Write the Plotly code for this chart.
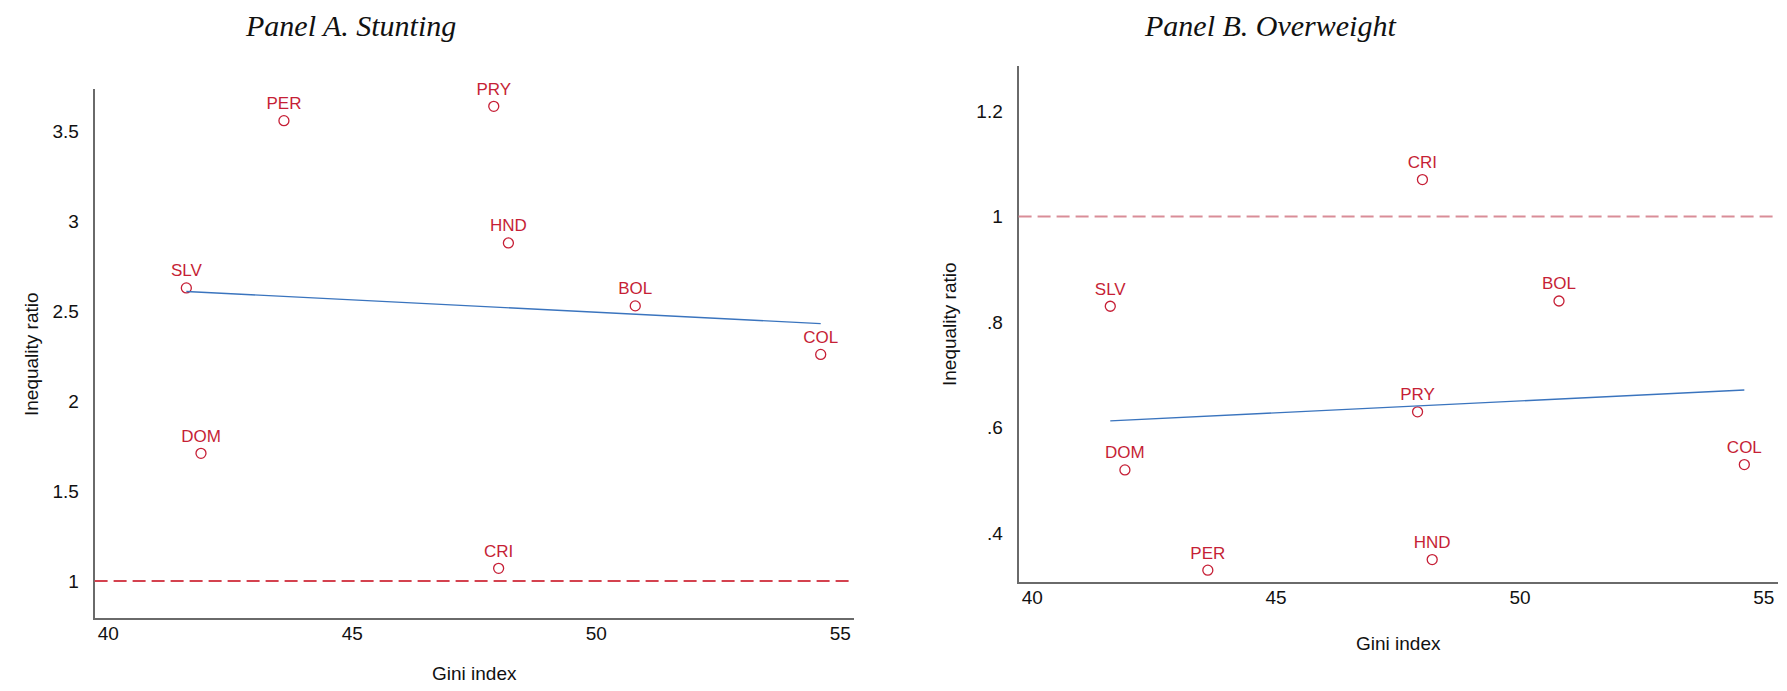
import numpy as np
import plotly.graph_objects as go

# ---- data ----
countries = ["SLV", "PER", "PRY", "HND", "BOL", "COL", "DOM", "CRI"]
gini = [41.6, 43.6, 47.9, 48.2, 50.8, 54.6, 41.9, 48.0]
stunting_ratio = [2.63, 3.56, 3.64, 2.88, 2.53, 2.26, 1.71, 1.07]
overweight_ratio = [0.83, 0.33, 0.63, 0.35, 0.84, 0.53, 0.52, 1.07]

x_ticks = [40, 45, 50, 55]
yA_ticks = [1, 1.5, 2, 2.5, 3, 3.5]
yA_labels = ["1", "1.5", "2", "2.5", "3", "3.5"]
yB_ticks = [0.4, 0.6, 0.8, 1.0, 1.2]
yB_labels = [".4", ".6", ".8", "1", "1.2"]

panel_titles = ["Panel A. Stunting", "Panel B. Overweight"]
x_title = "Gini index"
y_title = "Inequality ratio"

# ---- styles ----
RED = "#C61F36"
BLUE = "#3A74BE"
AXIS = "#6a6a6a"
SANS = "Liberation Sans Narrow, Arial Narrow, Liberation Sans, Arial, sans-serif"
SERIF = "Liberation Serif, Times New Roman, serif"

fig = go.Figure()


def add_panel(ys, xa, ya):
    fig.add_trace(go.Scatter(
        x=gini, y=ys, mode="markers+text", text=countries,
        textposition="top center", cliponaxis=False,
        textfont=dict(family=SANS, size=17, color=RED),
        marker=dict(symbol="circle-open", size=10, color=RED, line=dict(width=1.3, color=RED)),
        xaxis=xa, yaxis=ya, showlegend=False, hoverinfo="skip"))
    b, a = np.polyfit(gini, ys, 1)
    xs = [min(gini), max(gini)]
    fig.add_trace(go.Scatter(
        x=xs, y=[a + b * v for v in xs], mode="lines",
        line=dict(color=BLUE, width=1.4),
        xaxis=xa, yaxis=ya, showlegend=False, hoverinfo="skip"))


add_panel(stunting_ratio, "x", "y")
add_panel(overweight_ratio, "x2", "y2")

xcommon = dict(range=[39.72, 55.29], tickvals=x_ticks, showline=True, linecolor=AXIS,
               linewidth=2, showgrid=False, zeroline=False, ticks="",
               ticklabelstandoff=-3, tickfont=dict(family=SANS, size=19, color="#111"))
ycommon = dict(showline=True, linecolor=AXIS, linewidth=2, showgrid=False, zeroline=False,
               ticks="", ticklabelstandoff=10, tickfont=dict(family=SANS, size=19, color="#111"))

fig.update_layout(
    width=1787, height=691,
    margin=dict(l=0, r=0, t=0, b=0),
    paper_bgcolor="white", plot_bgcolor="white",
    xaxis=dict(domain=[0.05294, 0.4781], anchor="y", **xcommon),
    yaxis=dict(domain=[0.1054, 0.8706], anchor="x", range=[0.793, 3.734],
               tickvals=yA_ticks, ticktext=yA_labels, **ycommon),
    xaxis2=dict(domain=[0.5700, 0.99496], anchor="y2", **xcommon),
    yaxis2=dict(domain=[0.1573, 0.9051], anchor="x2", range=[0.307, 1.286],
                tickvals=yB_ticks, ticktext=yB_labels, **ycommon),
)

# reference lines at ratio = 1
fig.add_shape(type="line", xref="x domain", yref="y", x0=0, x1=1, y0=1, y1=1,
              line=dict(color="#D4424F", width=2, dash="13px,6px"))
fig.add_shape(type="line", xref="x2 domain", yref="y2", x0=0, x1=1, y0=1, y1=1,
              line=dict(color="#D98D98", width=2, dash="13px,6px"))

W, H = 1787, 691
ann = []
ann.append(dict(text=panel_titles[0], x=350 / W, y=1 - 25 / H))
ann.append(dict(text=panel_titles[1], x=1270 / W, y=1 - 25 / H))
for a in ann:
    a.update(xref="paper", yref="paper", showarrow=False, xanchor="center", yanchor="middle",
             font=dict(family=SERIF, size=30, color="#111"))
    a["text"] = "<i>" + a["text"] + "</i>"
axt = [
    dict(text=x_title, x=474.5 / W, y=1 - 673 / H, textangle=0),
    dict(text=x_title, x=1398 / W, y=1 - 643 / H, textangle=0),
    dict(text=y_title, x=31 / W, y=1 - 354 / H, textangle=-90),
    dict(text=y_title, x=950 / W, y=1 - 324 / H, textangle=-90),
]
for a in axt:
    a.update(xref="paper", yref="paper", showarrow=False, xanchor="center", yanchor="middle",
             font=dict(family=SANS, size=19, color="#111"))
ann += axt
fig.update_layout(annotations=ann)

fig.write_html("out.html", config={"displayModeBar": False},
               post_script="document.body.style.margin='0px';document.body.style.overflow='hidden';")
